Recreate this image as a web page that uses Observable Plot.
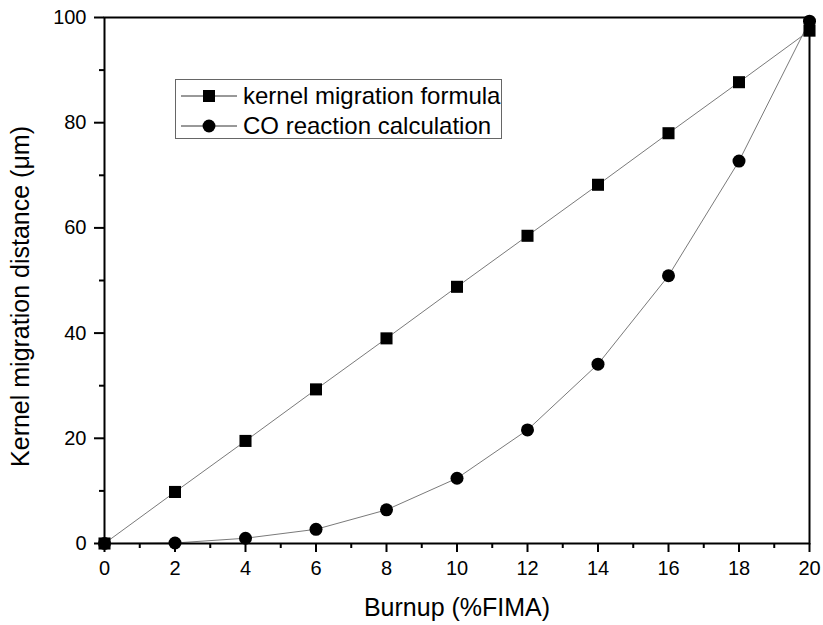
<!DOCTYPE html>
<html>
<head>
<meta charset="utf-8">
<script src="https://cdn.jsdelivr.net/npm/d3@7"></script>
<script src="https://cdn.jsdelivr.net/npm/@observablehq/plot@0.6"></script>
<style>
  body { margin: 0; background: #fff; }
  #wrap { position: relative; width: 823px; height: 625px; font-family: "Liberation Sans", Arial, sans-serif; }
  #wrap svg g[aria-label$="tick label"] text { font-size: 20px !important; }
  #wrap svg g[aria-label$="axis label"] text { font-size: 25px !important; }
  #legend { position: absolute; left: 175px; top: 79px; width: 327px; height: 60px; border: 1px solid #666; background: #fff; box-sizing: border-box; }
  .row { position: absolute; left: 0; height: 30px; display: flex; align-items: center; font-size: 24px; color: #000; white-space: nowrap; }
  .row svg { margin-left: 5px; margin-right: 6px; }
</style>
</head>
<body>
<div id="wrap"></div>
<script>
const burnup = [0, 2, 4, 6, 8, 10, 12, 14, 16, 18, 20];
const formulaValues = [0, 9.8, 19.5, 29.3, 39.0, 48.8, 58.5, 68.2, 78.0, 87.7, 97.5];
const coValues = [0, 0.1, 1.0, 2.7, 6.4, 12.4, 21.6, 34.1, 50.9, 72.7, 99.3];
const seriesNames = ["kernel migration formula", "CO reaction calculation"];
const xMajorTicks = [0, 2, 4, 6, 8, 10, 12, 14, 16, 18, 20];
const xMinorTicks = [1, 3, 5, 7, 9, 11, 13, 15, 17, 19];
const yMajorTicks = [0, 20, 40, 60, 80, 100];
const yMinorTicks = [10, 30, 50, 70, 90];

const formula = burnup.map((x, i) => ({x, y: formulaValues[i]}));
const co = burnup.map((x, i) => ({x, y: coValues[i]}));

const lineColor = "#7a7a7a";

const chart = Plot.plot({
  width: 823,
  height: 625,
  marginLeft: 104,
  marginRight: 14,
  marginTop: 17,
  marginBottom: 82,
  style: {fontFamily: "Liberation Sans, Arial, sans-serif", background: "#fff", color: "#000", overflow: "visible"},
  x: {domain: [0, 20]},
  y: {domain: [0, 100]},
  marks: [
    Plot.line(formula, {x: "x", y: "y", stroke: lineColor, strokeWidth: 1}),
    Plot.line(co, {x: "x", y: "y", stroke: lineColor, strokeWidth: 1}),
    Plot.dot(formula, {x: "x", y: "y", symbol: "square", r: 6.8, fill: "#000", stroke: "none"}),
    Plot.dot(co, {x: "x", y: "y", symbol: "circle", r: 6.5, fill: "#000", stroke: "none"}),
    Plot.axisX({ticks: xMajorTicks, tickSize: 9, tickPadding: 8, strokeWidth: 2, fontSize: 20,
      label: "Burnup (%FIMA)", labelAnchor: "center", labelOffset: 72, labelArrow: "none"}),
    Plot.axisX({ticks: xMinorTicks, tickSize: 5, strokeWidth: 2, tickFormat: () => "", label: null}),
    Plot.axisY({ticks: yMajorTicks, tickSize: 10, tickPadding: 8, strokeWidth: 2, fontSize: 20,
      label: "Kernel migration distance (\u03bcm)", labelAnchor: "center", labelOffset: 93, labelArrow: "none"}),
    Plot.axisY({ticks: yMinorTicks, tickSize: 5, strokeWidth: 2, tickFormat: () => "", label: null}),
    Plot.frame({stroke: "#000", strokeWidth: 2})
  ]
});

const yl = chart.querySelector("[aria-label='y-axis label']");
if (yl) yl.setAttribute("transform", "translate(0,16) " + (yl.getAttribute("transform") || ""));

const wrap = document.getElementById("wrap");
wrap.appendChild(chart);

// legend
const legend = document.createElement("div");
legend.id = "legend";
const swatches = [
  {name: seriesNames[0], symbol: d3.symbolSquare, size: 145},
  {name: seriesNames[1], symbol: d3.symbolCircle, size: 130}
];
swatches.forEach((s, i) => {
  const row = document.createElement("div");
  row.className = "row";
  row.style.top = (i * 30 + 1) + "px";
  const svg = d3.create("svg").attr("width", 56).attr("height", 20);
  svg.append("line").attr("x1", 0).attr("x2", 56).attr("y1", 10).attr("y2", 10).attr("stroke", "#333").attr("stroke-width", 1);
  svg.append("path").attr("d", d3.symbol(s.symbol, s.size)()).attr("transform", "translate(28,10)").attr("fill", "#000");
  row.appendChild(svg.node());
  const t = document.createElement("span");
  t.textContent = s.name;
  row.appendChild(t);
  legend.appendChild(row);
});
wrap.appendChild(legend);
</script>
</body>
</html>
